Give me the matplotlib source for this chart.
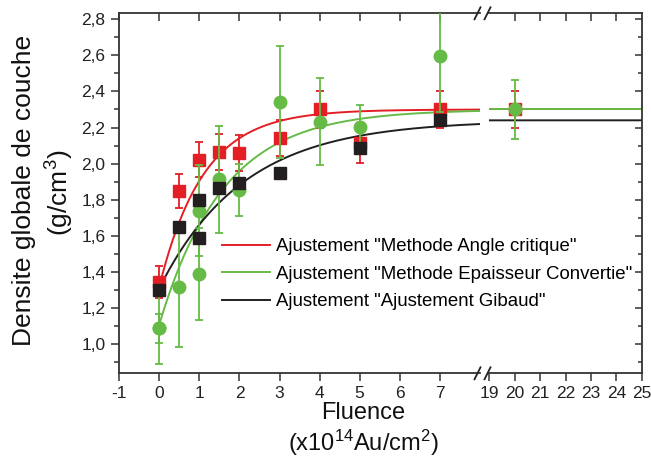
import numpy as np
import matplotlib
matplotlib.use("Agg")
import matplotlib.pyplot as plt
from matplotlib.ticker import MultipleLocator, FuncFormatter
from matplotlib.lines import Line2D

plt.rcParams['font.family'] = ['Liberation Sans', 'DejaVu Sans']
plt.rcParams['mathtext.fontset'] = 'custom'
plt.rcParams['mathtext.rm'] = 'Liberation Sans'
plt.rcParams['mathtext.it'] = 'Liberation Sans:italic'
plt.rcParams['axes.unicode_minus'] = False

# ---------------- data ----------------
fluence_red = [0, 0.5, 1, 1.5, 2, 3, 4, 5, 7, 20]
density_red = [1.345, 1.85, 2.022, 2.065, 2.057, 2.14, 2.30, 2.115, 2.30, 2.30]
err_red = [0.09, 0.095, 0.098, 0.1, 0.1, 0.1, 0.105, 0.11, 0.105, 0.105]

fluence_green = [0, 0, 0.5, 1, 1, 1.5, 2, 3, 4, 5, 7, 20]
density_green = [1.087, 1.087, 1.318, 1.388, 1.74, 1.912, 1.855, 2.34, 2.233, 2.205, 2.595, 2.30]
err_green = [0.2, 0.082, 0.335, 0.255, 0.25, 0.295, 0.145, 0.31, 0.243, 0.12, 0.31, 0.165]

fluence_black = [0, 0.5, 1, 1, 1.5, 2, 3, 5, 7]
density_black = [1.30, 1.65, 1.80, 1.586, 1.863, 1.89, 1.946, 2.085, 2.24]

# exponential saturation fits: y = plateau - amp * exp(-x / tau)
fit_labels = ['Ajustement "Methode Angle critique"',
              'Ajustement "Methode Epaisseur Convertie"',
              'Ajustement "Ajustement Gibaud"']
fit_plateau = [2.30, 2.30, 2.24]
fit_amp = [0.98, 1.19, 0.93]
fit_tau = [1.1, 1.6, 2.1]

xticks_left = [-1, 0, 1, 2, 3, 4, 5, 6, 7]
xticks_right = [19, 20, 21, 22, 23, 24, 25]

RED = '#E31E24'
GREEN = '#66BB46'
BLACK = '#231F20'
fit_colors = [RED, GREEN, BLACK]

W, H = 651, 461
fig = plt.figure(figsize=(W / 100, H / 100), dpi=100)

def fx(px):
    return px / W

def fy(py):
    return 1 - py / H

x_l0, x_l1 = 119.3, 479.8
x_r0, x_r1 = 489.3, 641.7
y_top, y_bot = 13.3, 373.3

ax1 = fig.add_axes([fx(x_l0), fy(y_bot), fx(x_l1 - x_l0), (y_bot - y_top) / H])
ax2 = fig.add_axes([fx(x_r0), fy(y_bot), fx(x_r1 - x_r0), (y_bot - y_top) / H])

ylim = (0.838, 2.833)
spine_col = '#333333'

fit_handles = []
for ax, xr in ((ax1, (0, 8.2)), (ax2, (18, 26))):
    xs = np.linspace(xr[0], xr[1], 400)
    for i in range(3):
        ys = fit_plateau[i] - fit_amp[i] * np.exp(-xs / fit_tau[i])
        ln, = ax.plot(xs, ys, color=fit_colors[i], lw=1.4, zorder=2,
                      label=fit_labels[i])
        if ax is ax1:
            fit_handles.append(ln)

    ax.errorbar(fluence_red, density_red, yerr=err_red, fmt='s', color=RED,
                ms=8.5, mec=RED, capsize=3, elinewidth=1.3, capthick=1.3, zorder=3)
    ax.errorbar(fluence_green, density_green, yerr=err_green, fmt='o', color=GREEN,
                ms=9, mec=GREEN, capsize=3, elinewidth=1.3, capthick=1.3, zorder=4)
    ax.plot(fluence_black, density_black, 's', color=BLACK, ms=8.5, zorder=5)

    ax.set_ylim(*ylim)
    ax.yaxis.set_major_locator(MultipleLocator(0.2))
    ax.yaxis.set_minor_locator(MultipleLocator(0.1))
    for s in ax.spines.values():
        s.set_color(spine_col)
        s.set_linewidth(1.3)
    ax.set_facecolor('none')

ax1.set_xlim(-1, 8)
ax1.set_xticks(xticks_left)
ax2.set_xlim(19, 25)
ax2.set_xticks(xticks_right)

ax1.spines['right'].set_visible(False)
ax2.spines['left'].set_visible(False)

ax1.yaxis.set_major_formatter(FuncFormatter(lambda v, p: f"{v:.1f}".replace('.', ',')))
ax1.tick_params(axis='y', which='major', direction='out', length=6, width=1.1,
                colors=spine_col, labelcolor='#222222', labelsize=12.5, pad=4)
ax1.tick_params(axis='y', which='minor', direction='out', length=3.5, width=1.1,
                colors=spine_col)
for ax in (ax1, ax2):
    ax.tick_params(axis='x', which='major', direction='out', length=6, width=1.1,
                   colors=spine_col, labelcolor='#222222', labelsize=12.5, pad=3)
# top ticks inward
for ax, ticks in ((ax1, xticks_left), (ax2, xticks_right[1:-1])):
    sec = ax.secondary_xaxis('top')
    sec.set_xticks(ticks)
    sec.tick_params(direction='in', length=6, width=1.1, colors=spine_col,
                    labeltop=False)
    sec.spines['top'].set_visible(False)
    ax.tick_params(axis='x', top=False)

ax2.tick_params(axis='y', which='both', left=False, labelleft=False,
                right=True, direction='in', colors=spine_col, width=1.1)
ax2.tick_params(axis='y', which='major', length=5)
ax2.tick_params(axis='y', which='minor', length=3)

# break marks
for cx in (477.5, 487.5):
    for cy in (y_top, y_bot):
        fig.add_artist(Line2D([fx(cx - 3), fx(cx + 3)], [fy(cy + 6), fy(cy - 6)],
                              color='#222222', lw=1.3))

# legend
fig.legend(handles=fit_handles, loc='upper left',
           bbox_to_anchor=(fx(222), fy(238)), frameon=False, fontsize=13.4,
           handlelength=2.6, handletextpad=0.32, labelspacing=0.57, borderpad=0,
           borderaxespad=0)

# axis labels
fig.text(fx(24), fy(190), 'Densite globale de couche', rotation=90,
         ha='center', va='center', fontsize=19, color='#111111')
fig.text(fx(60), fy(193), '(g/cm$^{3}$)', rotation=90,
         ha='center', va='center', fontsize=19, color='#111111')
fig.text(fx(363), fy(413), 'Fluence', ha='center', va='center',
         fontsize=17, color='#111111')
fig.text(fx(363), fy(443), '(x10$^{14}$Au/cm$^{2}$)', ha='center', va='center',
         fontsize=17, color='#111111')

fig.savefig('out.png', dpi=100)
